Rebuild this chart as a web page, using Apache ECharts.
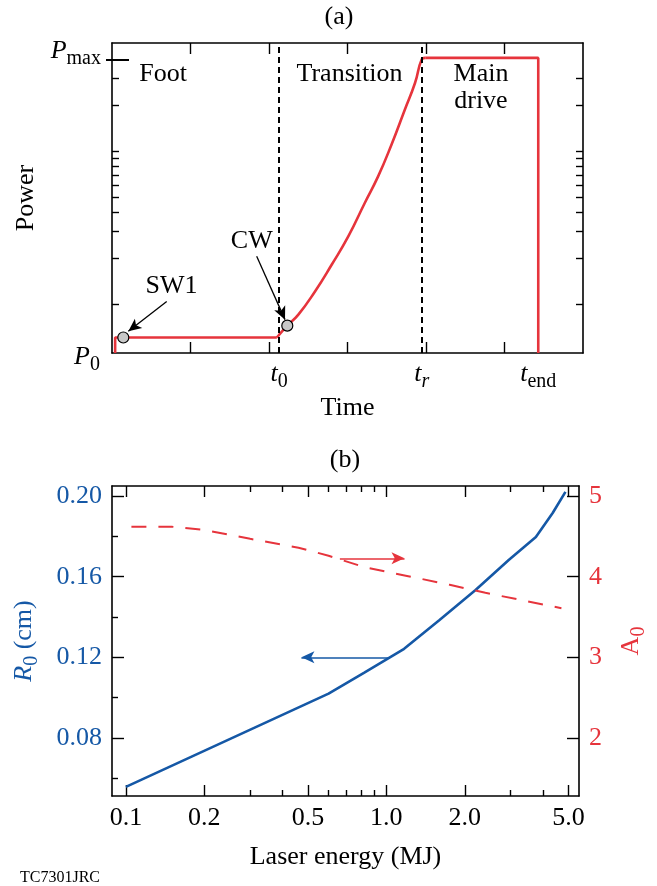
<!DOCTYPE html>
<html><head><meta charset="utf-8">
<script src="https://cdn.jsdelivr.net/npm/echarts@6/dist/echarts.min.js"></script>
<style>html,body{margin:0;padding:0;background:#fff}#c{width:657px;height:886px}</style>
</head><body><div id="c"></div>
<script>
const FONT = '"Liberation Serif", "Times New Roman", serif';
const RED = '#e6343c';
const BLUE = '#1558a6';

// ---------- Panel (a) data ----------
const pulseTime  = [0.04, 0.04, 2.10, 2.233, 2.374, 2.586, 2.80, 3.01, 3.22, 3.39, 3.56, 3.73, 3.86, 3.945, 3.99, 5.43, 5.43];
const pulsePower = [0.483, 0.61, 0.61, 0.729, 0.86, 1.22, 1.83, 2.79, 4.62, 6.89, 11.1, 18.8, 28.1, 40, 41, 41, 0.483];
const transitionStart = 2, transitionEnd = 14; // indices in the pulse arrays bounding the ramp
const circleTime  = [0.144, 2.233];
const circlePower = [0.61, 0.729];
const eventTimes  = [2.13, 3.945, 5.43];
const eventLabels = ['{i|t}{s|0}', '{i|t}{si|r}', '{i|t}{s|end}'];
const dashedTimes = [2.13, 3.945];
const timeTicks   = [1, 2, 3, 4, 5];
const powerTicks  = [1, 2, 3, 4, 5, 6, 7, 8, 9, 10, 20, 30];
const P0 = 0.49, PMAX = 40;
const annoText  = ['Foot', 'Transition', 'Main\ndrive', 'SW1', 'CW'];
const annoTime  = [0.65, 3.025, 4.70, 0.757, 1.78];
const annoPower = [32.1, 32.1, 26.2, 1.32, 2.60];
const arrowA = [ // [t1, p1, t2, p2]
  [0.697, 1.05, 0.208, 0.669],
  [1.843, 2.07, 2.204, 0.798]
];

// ---------- Panel (b) data ----------
const energyR = [0.1, 0.6, 0.82, 1.17, 1.6, 2.2, 2.95, 3.75, 4.35, 4.87];
const radius  = [0.0557, 0.102, 0.1123, 0.1242, 0.1385, 0.1534, 0.1683, 0.1797, 0.1916, 0.2021];
const energyA = [0.105, 0.15, 0.2, 0.3, 0.46, 0.6, 0.82, 1.2, 1.75, 2.4, 3.3, 4.7];
const aspect  = [4.62, 4.62, 4.58, 4.47, 4.36, 4.26, 4.12, 4.01, 3.90, 3.80, 3.71, 3.61];
const energyMajor = [0.1, 0.2, 0.5, 1, 2, 5];
const energyMinor = [0.3, 0.4, 0.6, 0.7, 0.8, 0.9, 3, 4];
const radiusMajor = [0.08, 0.12, 0.16, 0.20];
const radiusMinor = [0.06, 0.10, 0.14, 0.18];
const aspectTicks = [2, 3, 4, 5];
const arrowR = [1.024, 0.12, 0.472, 0.12];   // points left to R0 axis
const arrowAsp = [0.663, 4.228, 1.174, 4.228]; // points right to A0 axis

const zip = (a, b) => a.map((v, i) => [v, b[i]]);
const pulse = zip(pulseTime, pulsePower);
const txt = (size, color) => ({ fontFamily: FONT, fontSize: size, color: color || '#000' });
const subRich = (color) => ({
  i: { fontFamily: FONT, fontSize: 26, fontStyle: 'italic', lineHeight: 35, color: color || '#000' },
  n: { fontFamily: FONT, fontSize: 26, lineHeight: 35, color: color || '#000' },
  s: { fontFamily: FONT, fontSize: 20, lineHeight: 20, verticalAlign: 'bottom', color: color || '#000' },
  si: { fontFamily: FONT, fontSize: 20, fontStyle: 'italic', lineHeight: 20, verticalAlign: 'bottom', color: color || '#000' }
});
const AL = { show: true, lineStyle: { color: '#000', width: 1.6 } };
const TL = { color: '#000', width: 1.4 };
const off = { show: false };

const chart = echarts.init(document.getElementById('c'), null, { renderer: 'canvas' });

const logY0 = { gridIndex: 0, type: 'log', logBase: 10, min: 0.483, max: 51.3, splitLine: off };
const xE = { gridIndex: 1, type: 'log', logBase: 10, min: 0.08845, max: 5.49, splitLine: off };
const yR = { gridIndex: 1, type: 'value', min: 0.0512, max: 0.205, splitLine: off };
const pulseLine = { type: 'line', xAxisIndex: 0, yAxisIndex: 0, symbol: 'none', lineStyle: { color: RED, width: 2.6 }, z: 3, emphasis: { disabled: true } };

const option = {
  animation: false,
  backgroundColor: '#fff',
  grid: [
    { left: 112, top: 43, width: 471, height: 310 },
    { left: 112, top: 486, width: 471, height: 310 }
  ],
  xAxis: [
    { gridIndex: 0, type: 'value', min: 0, max: 6, position: 'bottom', splitLine: off,
      axisLine: AL,
      axisTick: { show: true, inside: true, length: 11, customValues: timeTicks, lineStyle: TL },
      axisLabel: { show: true, customValues: eventTimes, margin: 4,
        formatter: v => { const i = eventTimes.findIndex(e => Math.abs(e - v) < 1e-6); return i >= 0 ? eventLabels[i] : ''; },
        rich: subRich() },
      name: 'Time', nameLocation: 'middle', nameGap: 42, nameTextStyle: txt(26) },
    { gridIndex: 0, type: 'value', min: 0, max: 6, position: 'top', splitLine: off,
      axisLine: AL,
      axisTick: { show: true, inside: true, length: 11, customValues: timeTicks, lineStyle: TL },
      axisLabel: off },
    Object.assign({}, xE, { position: 'bottom', axisLine: AL,
      axisTick: { show: true, inside: true, length: 11, customValues: energyMajor, lineStyle: TL },
      axisLabel: { show: true, customValues: energyMajor, margin: 9, formatter: v => (+v).toFixed(1), fontFamily: FONT, fontSize: 26, color: '#000' },
      name: 'Laser energy (MJ)', nameLocation: 'middle', nameGap: 48, nameTextStyle: txt(26) }),
    Object.assign({}, xE, { position: 'bottom', axisLine: off,
      axisTick: { show: true, inside: true, length: 6, customValues: energyMinor, lineStyle: TL }, axisLabel: off }),
    Object.assign({}, xE, { position: 'top', axisLine: AL,
      axisTick: { show: true, inside: true, length: 11, customValues: energyMajor, lineStyle: TL }, axisLabel: off }),
    Object.assign({}, xE, { position: 'top', axisLine: off,
      axisTick: { show: true, inside: true, length: 6, customValues: energyMinor, lineStyle: TL }, axisLabel: off })
  ],
  yAxis: [
    Object.assign({}, logY0, { position: 'left', axisLine: AL,
      axisTick: { show: true, inside: true, length: 7, customValues: powerTicks, lineStyle: TL },
      axisLabel: { show: true, customValues: [P0], margin: 12, padding: [10, 0, 0, 0], formatter: () => '{i|P}{s|0}', rich: subRich() },
      name: 'Power', nameLocation: 'middle', nameGap: 73, nameTextStyle: txt(26) }),
    Object.assign({}, logY0, { position: 'left', axisLine: off,
      axisTick: { show: true, inside: true, length: 17, customValues: [PMAX], lineStyle: { color: '#000', width: 2 } },
      axisLabel: { show: true, customValues: [PMAX], margin: 11, padding: [0, 0, 16, 0], formatter: () => '{i|P}{s|max}', rich: subRich() } }),
    Object.assign({}, logY0, { position: 'left', axisLine: off,
      axisTick: { show: true, inside: false, length: 6, customValues: [PMAX], lineStyle: { color: '#000', width: 2 } },
      axisLabel: off }),
    Object.assign({}, logY0, { position: 'right', axisLine: AL,
      axisTick: { show: true, inside: true, length: 7, customValues: powerTicks, lineStyle: TL }, axisLabel: off }),
    Object.assign({}, yR, { position: 'left', axisLine: AL,
      axisTick: { show: true, inside: true, length: 12, customValues: radiusMajor, lineStyle: TL },
      axisLabel: { show: true, customValues: radiusMajor, margin: 10, formatter: v => (+v).toFixed(2), fontFamily: FONT, fontSize: 26, color: BLUE },
      name: '{i|R}{s|0}{n| (cm)}', nameLocation: 'middle', nameGap: 70, nameTextStyle: { rich: subRich(BLUE) } }),
    Object.assign({}, yR, { position: 'left', axisLine: off,
      axisTick: { show: true, inside: true, length: 6, customValues: radiusMinor, lineStyle: TL }, axisLabel: off }),
    { gridIndex: 1, type: 'value', min: 1.28, max: 5.125, position: 'right', splitLine: off, axisLine: AL,
      axisTick: { show: true, inside: true, length: 12, customValues: aspectTicks, lineStyle: TL },
      axisLabel: { show: true, customValues: aspectTicks, margin: 10, fontFamily: FONT, fontSize: 26, color: RED },
      name: '{n|A}{s|0}', nameLocation: 'middle', nameGap: 35, nameTextStyle: { rich: subRich(RED) } }
  ],
  graphic: [
    { type: 'text', x: 339, y: 17, style: { text: '(a)', align: 'center', verticalAlign: 'middle', font: '26px ' + FONT, fill: '#000' } },
    { type: 'text', x: 345, y: 460, style: { text: '(b)', align: 'center', verticalAlign: 'middle', font: '26px ' + FONT, fill: '#000' } },
    { type: 'text', x: 20, y: 878, style: { text: 'TC7301JRC', align: 'left', verticalAlign: 'middle', font: '16px ' + FONT, fill: '#000' } }
  ],
  series: [
    Object.assign({}, pulseLine, { data: pulse.slice(0, transitionStart + 1),
      markLine: { silent: true, symbol: 'none', label: off,
        lineStyle: { color: '#000', width: 2, type: [6, 4] },
        data: dashedTimes.map(t => ({ xAxis: t })) } }),
    Object.assign({}, pulseLine, { data: pulse.slice(transitionStart, transitionEnd + 1), smooth: 0.5 }),
    Object.assign({}, pulseLine, { data: pulse.slice(transitionEnd) }),
    { type: 'scatter', xAxisIndex: 0, yAxisIndex: 0, data: zip(circleTime, circlePower), symbol: 'circle', symbolSize: 11,
      itemStyle: { color: '#c8c8c8', borderColor: '#000', borderWidth: 1.2, opacity: 1 }, z: 5 },
    { type: 'scatter', xAxisIndex: 0, yAxisIndex: 0,
      data: annoText.map((s, i) => ({ value: [annoTime[i], annoPower[i]], name: s })),
      symbolSize: 0, itemStyle: { color: '#000', opacity: 1 }, emphasis: { disabled: true },
      label: { show: true, position: 'inside', formatter: p => p.name, fontFamily: FONT, fontSize: 26, lineHeight: 27,
        color: '#000', textBorderWidth: 0, opacity: 1, align: 'center' },
      markLine: { silent: true, symbol: ['none', 'arrow'], symbolSize: [9, 13], label: off,
        lineStyle: { color: '#000', width: 1.3, type: 'solid' },
        data: arrowA.map(a => [{ coord: [a[0], a[1]] }, { coord: [a[2], a[3]] }]) }, z: 4 },
    { type: 'line', xAxisIndex: 2, yAxisIndex: 4, data: zip(energyR, radius), symbol: 'none',
      lineStyle: { color: BLUE, width: 2.6 },
      markLine: { silent: true, symbol: ['none', 'arrow'], symbolSize: [9, 13], label: off,
        lineStyle: { color: BLUE, width: 1.5, type: 'solid' },
        data: [[{ coord: [arrowR[0], arrowR[1]] }, { coord: [arrowR[2], arrowR[3]] }]] } },
    { type: 'line', xAxisIndex: 2, yAxisIndex: 6, data: zip(energyA, aspect), symbol: 'none',
      lineStyle: { color: RED, width: 2, type: [15, 12] },
      markLine: { silent: true, symbol: ['none', 'arrow'], symbolSize: [9, 13], label: off,
        lineStyle: { color: RED, width: 1.5, type: 'solid' },
        data: [[{ coord: [arrowAsp[0], arrowAsp[1]] }, { coord: [arrowAsp[2], arrowAsp[3]] }]] } }
  ]
};
chart.setOption(option);
</script>
</body></html>
